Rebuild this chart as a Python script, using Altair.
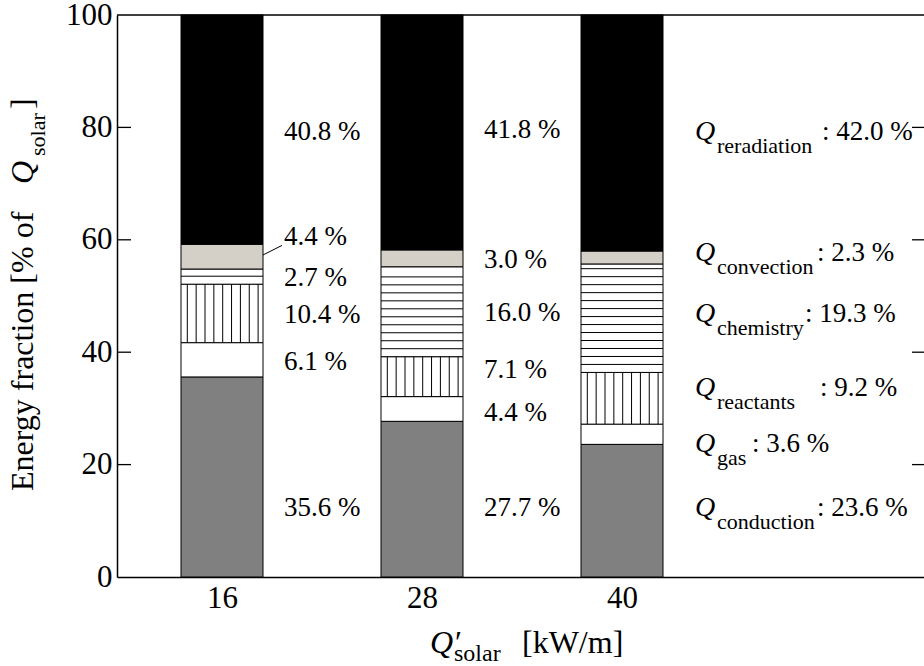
import altair as alt
import pandas as pd

FONT = "Liberation Serif"

# Incident solar power per unit length, Q'_solar [kW/m]
power = [16, 28, 40]

# Energy fractions [% of Q_solar], stacked from the bottom up
components = ["conduction", "gas", "reactants", "chemistry", "convection", "reradiation"]
conduction = [35.6, 27.7, 23.6]
gas = [6.1, 4.4, 3.6]
reactants = [10.4, 7.1, 9.2]
chemistry = [2.7, 16.0, 19.3]
convection = [4.4, 3.0, 2.3]
reradiation = [40.8, 41.8, 42.0]
series = [conduction, gas, reactants, chemistry, convection, reradiation]

fill_colors = ["#808080", "#ffffff", "#ffffff", "#ffffff", "#d4d0c8", "#000000"]

# Vertical placement of the percentage annotations (% units), bottom to top
label_y_16 = [12.3, 38.3, 46.6, 53.2, 60.5, 79.2]
label_y_28 = [12.3, 29.2, 36.8, 47.0, 56.4, 79.5]
label_y_40 = [12.3, 23.7, 33.6, 46.8, 57.7, 79.2]
# Pixel offset of the ": value %" text behind each subscript (last column)
value_dx_40 = [195, 130, 198, 183, 195, 200]

# ---- geometry -------------------------------------------------------------
W, H = 807, 562
X_DOM = [9.7, 58.12]
PXU = W / (X_DOM[1] - X_DOM[0])      # pixels per kW/m
BAR_HALF = 41 / PXU                   # half bar width in data units
H_HATCH_STEP = 1.42                   # spacing of horizontal hatching (% units)
V_HATCH_N, V_HATCH_FIRST, V_HATCH_STEP = 9, 6.3, 8.85   # px

xs = alt.Scale(domain=X_DOM, nice=False, zero=False)
ys = alt.Scale(domain=[0, 100], nice=False, zero=False)

x_axis = alt.Axis(values=power, title="", ticks=False, grid=False, domain=True,
                  domainColor="black", domainWidth=1.5, labelFont=FONT,
                  labelFontSize=31, labelColor="black", labelPadding=6,
                  labelFlush=False, labelOverlap=False)
y_axis = alt.Axis(values=[0, 20, 40, 60, 80, 100], title="", ticks=False, grid=False,
                  domain=True, domainColor="black", domainWidth=1.5, labelFont=FONT,
                  labelFontSize=31, labelColor="black", labelPadding=5,
                  labelFlush=False, labelOverlap=False)


def X(field):
    return alt.X(field, scale=xs, axis=x_axis)


def Y(field):
    return alt.Y(field, scale=ys, axis=y_axis)


# ---- tables ----------------------------------------------------------------
seg_rows, vh_rows, hh_rows, lab_rows, q_rows = [], [], [], [], []
label_sets = {16: label_y_16, 28: label_y_28, 40: label_y_40}
for i, p in enumerate(power):
    base = 0.0
    for j, (comp, vals, col) in enumerate(zip(components, series, fill_colors)):
        v = vals[i]
        y0, y1 = base, base + v
        x0, x1 = p - BAR_HALF, p + BAR_HALF
        seg_rows.append(dict(power=p, comp=comp, value=v, y0=y0, y1=y1,
                             x0=x0, x1=x1, fill=col))
        if comp == "reactants":
            for k in range(V_HATCH_N):
                vh_rows.append(dict(x=x0 + (V_HATCH_FIRST + k * V_HATCH_STEP) / PXU,
                                    y0=y0, y1=y1))
        if comp == "chemistry":
            k = 1
            while y0 + k * H_HATCH_STEP < y1 - 0.4:
                hh_rows.append(dict(x0=x0, x1=x1, y=y0 + k * H_HATCH_STEP))
                k += 1
        ly = label_sets[p][j]
        if p == 40:
            q_rows.append(dict(power=p, y=ly, q="Q", sub=comp,
                               val=f": {v:.1f} %",
                               xv=p + value_dx_40[j] / PXU))
        else:
            lab_rows.append(dict(power=p, y=ly, txt=f"{v:.1f} %"))
        base = y1

seg = pd.DataFrame(seg_rows)
vh = pd.DataFrame(vh_rows)
hh = pd.DataFrame(hh_rows)
labs = pd.DataFrame(lab_rows)
qlabs = pd.DataFrame(q_rows)

# ---- stacked bars ------------------------------------------------------------
bars = alt.Chart(seg).mark_rect(stroke="black", strokeWidth=1).encode(
    x=X("x0:Q"), x2="x1:Q", y=Y("y0:Q"), y2="y1:Q",
    fill=alt.Fill("fill:N", scale=None),
)

v_hatch = alt.Chart(vh).mark_rule(color="black", strokeWidth=1).encode(
    x=X("x:Q"), y=Y("y0:Q"), y2="y1:Q",
)
h_hatch = alt.Chart(hh).mark_rule(color="black", strokeWidth=1).encode(
    x=X("x0:Q"), x2="x1:Q", y=Y("y:Q"),
)

# ---- annotations ------------------------------------------------------------
pct_labels = alt.Chart(labs).mark_text(
    align="left", baseline="middle", dx=62, font=FONT, fontSize=27, color="black"
).encode(x=X("power:Q"), y=Y("y:Q"), text="txt:N")

q_main = alt.Chart(qlabs).mark_text(
    align="left", baseline="middle", dx=73, font=FONT, fontSize=28,
    fontStyle="italic", color="black"
).encode(x=X("power:Q"), y=Y("y:Q"), text="q:N")
q_sub = alt.Chart(qlabs).mark_text(
    align="left", baseline="middle", dx=95, dy=14, font=FONT, fontSize=22, color="black"
).encode(x=X("power:Q"), y=Y("y:Q"), text="sub:N")
q_val = alt.Chart(qlabs).mark_text(
    align="left", baseline="middle", font=FONT, fontSize=27, color="black"
).encode(x=X("xv:Q"), y=Y("y:Q"), text="val:N")

# leader line from the convection slice of the first bar to its label
conv16 = seg[(seg.power == 16) & (seg.comp == "convection")].iloc[0]
leader_df = pd.DataFrame([dict(x=16 + BAR_HALF, y=(conv16.y0 + conv16.y1) / 2 + 0.3,
                               x2=16 + 60 / PXU, y2=label_y_16[4] - 1.5)])
leader = alt.Chart(leader_df).mark_rule(color="black", strokeWidth=1).encode(
    x=X("x:Q"), x2="x2:Q", y=Y("y:Q"), y2="y2:Q",
)

# ---- frame: inward ticks and top border -------------------------------------
tick_df = pd.DataFrame({"t": [20, 40, 60, 80]})
left_ticks = alt.Chart(tick_df).mark_rule(color="black", strokeWidth=1.3).encode(
    y=Y("t:Q"), x=alt.value(0), x2=alt.value(14))
right_ticks = alt.Chart(tick_df).mark_rule(color="black", strokeWidth=1.3).encode(
    y=Y("t:Q"), x=alt.value(W - 12), x2=alt.value(W))
top_line = alt.Chart(pd.DataFrame({"a": [0]})).mark_rule(
    color="black", strokeWidth=1.5
).encode(x=alt.value(0), x2=alt.value(W), y=alt.value(0))


def text_piece(s, x, y, size, italic=False, angle=0):
    kw = dict(text=s, align="left", baseline="alphabetic", font=FONT,
              fontSize=size, color="black")
    if italic:
        kw["fontStyle"] = "italic"
    if angle:
        kw["angle"] = angle
    return alt.Chart(pd.DataFrame({"a": [0]})).mark_text(**kw).encode(
        x=alt.value(x), y=alt.value(y))


# axis titles with italic symbols and subscripts
x_title = [
    text_piece("Q\u2032", 313, 638, 32, italic=True),
    text_piece("solar", 337, 646, 24),
    text_piece("[kW/m]", 405, 638, 32),
]
y_title = [
    text_piece("Energy fraction [% of", -84, 476, 32, angle=270),
    text_piece("Q", -84, 169, 32, italic=True, angle=270),
    text_piece("solar", -72, 141, 22, angle=270),
    text_piece("]", -84, 94, 32, angle=270),
]

chart = alt.layer(
    bars, v_hatch, h_hatch, pct_labels, q_main, q_sub, q_val, leader,
    left_ticks, right_ticks, top_line, *x_title, *y_title,
).properties(
    width=W, height=H,
    padding={"left": 117, "top": 15, "right": 0, "bottom": 89},
    autosize=alt.AutoSizeParams(type="none"),
).configure(background="white").configure_view(strokeWidth=0)

chart.save("out.html", embed_options={"renderer": "svg", "actions": False})
